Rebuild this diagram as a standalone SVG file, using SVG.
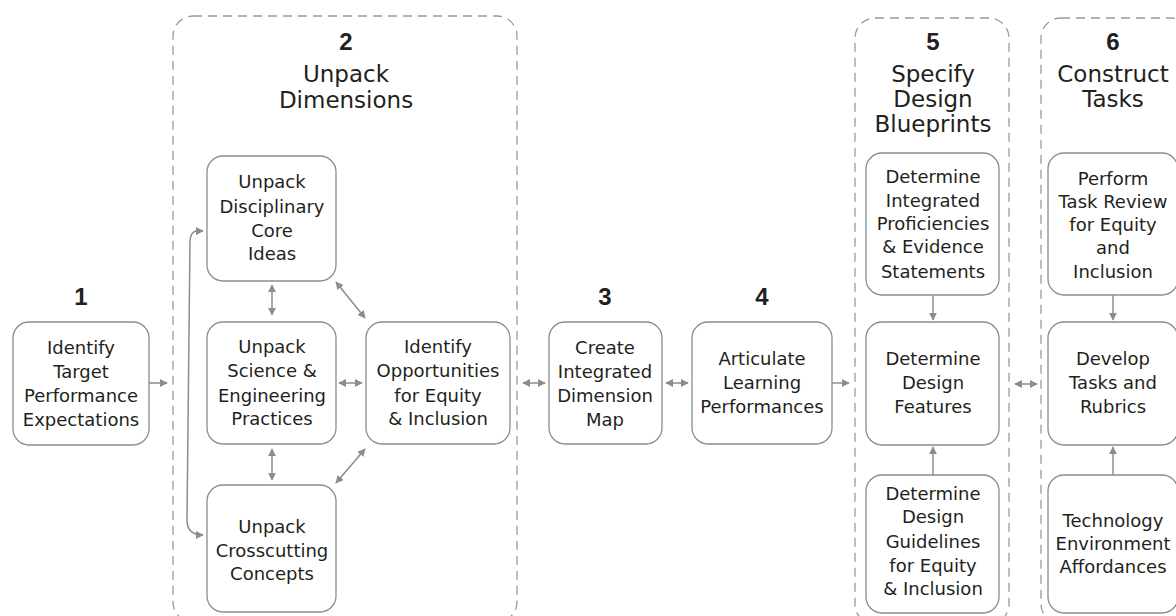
<svg xmlns="http://www.w3.org/2000/svg" width="1176" height="616" viewBox="0 0 1176 616">
  <style>
    .box { fill: #ffffff; stroke: #8c8c8c; stroke-width: 1.3; }
    .group { fill: none; stroke: #9a9a9a; stroke-width: 1.3; stroke-dasharray: 9 6; }
    .lbl { font-family: "DejaVu Sans", "Open Sans", sans-serif; font-size: 18px; fill: #231f20; text-anchor: middle; }
    .ttl { font-family: "DejaVu Sans", "Open Sans", sans-serif; font-size: 23px; fill: #231f20; text-anchor: middle; }
    .num { font-family: "Liberation Sans", "DejaVu Sans", sans-serif; font-size: 24px; font-weight: bold; fill: #231f20; text-anchor: middle; }
    .conn { fill: none; stroke: #8c8c8c; stroke-width: 1.5; }
  </style>
  <defs>
    <marker id="arr" viewBox="0 0 10 10" refX="9" refY="5" markerWidth="8" markerHeight="8" markerUnits="userSpaceOnUse" orient="auto-start-reverse">
      <path d="M0,0 L10,5 L0,10 Z" fill="#8c8c8c"/>
    </marker>
  </defs>

  <!-- dashed stage containers -->
  <g id="stage2">
    <rect class="group" x="173" y="16" width="344" height="606" rx="20"/>
    <text class="num" x="346" y="50">2</text>
    <text class="ttl" x="346" y="82">Unpack</text>
    <text class="ttl" x="346" y="108">Dimensions</text>
  </g>
  <g id="stage5">
    <rect class="group" x="855" y="18" width="154" height="606" rx="20"/>
    <text class="num" x="933" y="50">5</text>
    <text class="ttl" x="933" y="82">Specify</text>
    <text class="ttl" x="933" y="107">Design</text>
    <text class="ttl" x="933" y="132">Blueprints</text>
  </g>
  <g id="stage6">
    <rect class="group" x="1041" y="18" width="150" height="606" rx="20"/>
    <text class="num" x="1113" y="50">6</text>
    <text class="ttl" x="1113" y="82">Construct</text>
    <text class="ttl" x="1113" y="107">Tasks</text>
  </g>

  <!-- step 1 -->
  <g id="n1">
    <text class="num" x="81" y="305">1</text>
    <rect class="box" x="13" y="322" width="136" height="123" rx="16"/>
    <text class="lbl" x="81" y="354">Identify</text>
    <text class="lbl" x="81" y="378">Target</text>
    <text class="lbl" x="81" y="402">Performance</text>
    <text class="lbl" x="81" y="426">Expectations</text>
  </g>

  <!-- step 2 sub-nodes -->
  <g id="n2a">
    <rect class="box" x="207" y="156" width="129" height="125" rx="16"/>
    <text class="lbl" x="272" y="188">Unpack</text>
    <text class="lbl" x="272" y="213">Disciplinary</text>
    <text class="lbl" x="272" y="237">Core</text>
    <text class="lbl" x="272" y="260">Ideas</text>
  </g>
  <g id="n2b">
    <rect class="box" x="207" y="322" width="129" height="122" rx="16"/>
    <text class="lbl" x="272" y="353">Unpack</text>
    <text class="lbl" x="272" y="377">Science &amp;</text>
    <text class="lbl" x="272" y="402">Engineering</text>
    <text class="lbl" x="272" y="425">Practices</text>
  </g>
  <g id="n2c">
    <rect class="box" x="207" y="485" width="129" height="127" rx="16"/>
    <text class="lbl" x="272" y="533">Unpack</text>
    <text class="lbl" x="272" y="557">Crosscutting</text>
    <text class="lbl" x="272" y="580">Concepts</text>
  </g>
  <g id="n2d">
    <rect class="box" x="366" y="322" width="144" height="122" rx="16"/>
    <text class="lbl" x="438" y="353">Identify</text>
    <text class="lbl" x="438" y="377">Opportunities</text>
    <text class="lbl" x="438" y="402">for Equity</text>
    <text class="lbl" x="438" y="425">&amp; Inclusion</text>
  </g>

  <!-- step 3 -->
  <g id="n3">
    <text class="num" x="605" y="305">3</text>
    <rect class="box" x="549" y="322" width="113" height="122" rx="16"/>
    <text class="lbl" x="605" y="354">Create</text>
    <text class="lbl" x="605" y="378">Integrated</text>
    <text class="lbl" x="605" y="402">Dimension</text>
    <text class="lbl" x="605" y="426">Map</text>
  </g>

  <!-- step 4 -->
  <g id="n4">
    <text class="num" x="762" y="305">4</text>
    <rect class="box" x="692" y="322" width="140" height="122" rx="16"/>
    <text class="lbl" x="762" y="365">Articulate</text>
    <text class="lbl" x="762" y="389">Learning</text>
    <text class="lbl" x="762" y="413">Performances</text>
  </g>

  <!-- step 5 sub-nodes -->
  <g id="n5a">
    <rect class="box" x="866" y="153" width="133" height="142" rx="16"/>
    <text class="lbl" x="933" y="183">Determine</text>
    <text class="lbl" x="933" y="207">Integrated</text>
    <text class="lbl" x="933" y="230">Proficiencies</text>
    <text class="lbl" x="933" y="253">&amp; Evidence</text>
    <text class="lbl" x="933" y="278">Statements</text>
  </g>
  <g id="n5b">
    <rect class="box" x="866" y="322" width="133" height="123" rx="16"/>
    <text class="lbl" x="933" y="365">Determine</text>
    <text class="lbl" x="933" y="389">Design</text>
    <text class="lbl" x="933" y="413">Features</text>
  </g>
  <g id="n5c">
    <rect class="box" x="866" y="475" width="133" height="138" rx="16"/>
    <text class="lbl" x="933" y="500">Determine</text>
    <text class="lbl" x="933" y="523">Design</text>
    <text class="lbl" x="933" y="548">Guidelines</text>
    <text class="lbl" x="933" y="572">for Equity</text>
    <text class="lbl" x="933" y="595">&amp; Inclusion</text>
  </g>

  <!-- step 6 sub-nodes -->
  <g id="n6a">
    <rect class="box" x="1048" y="153" width="130" height="142" rx="16"/>
    <text class="lbl" x="1113" y="185">Perform</text>
    <text class="lbl" x="1113" y="208">Task Review</text>
    <text class="lbl" x="1113" y="231">for Equity</text>
    <text class="lbl" x="1113" y="254">and</text>
    <text class="lbl" x="1113" y="278">Inclusion</text>
  </g>
  <g id="n6b">
    <rect class="box" x="1048" y="322" width="130" height="123" rx="16"/>
    <text class="lbl" x="1113" y="365">Develop</text>
    <text class="lbl" x="1113" y="389">Tasks and</text>
    <text class="lbl" x="1113" y="413">Rubrics</text>
  </g>
  <g id="n6c">
    <rect class="box" x="1048" y="475" width="130" height="138" rx="16"/>
    <text class="lbl" x="1113" y="527">Technology</text>
    <text class="lbl" x="1113" y="550">Environment</text>
    <text class="lbl" x="1113" y="573">Affordances</text>
  </g>

  <!-- connectors -->
  <g id="connectors">
    <line class="conn" x1="149" y1="383" x2="167" y2="383" marker-end="url(#arr)"/>
    <path class="conn" d="M203,231 L196,231 Q191,232 190,240 L187,520 Q187,535 203,535" marker-start="url(#arr)" marker-end="url(#arr)"/>
    <line class="conn" x1="272" y1="285" x2="272" y2="315" marker-start="url(#arr)" marker-end="url(#arr)"/>
    <line class="conn" x1="272" y1="449" x2="272" y2="480" marker-start="url(#arr)" marker-end="url(#arr)"/>
    <line class="conn" x1="339" y1="383" x2="362" y2="383" marker-start="url(#arr)" marker-end="url(#arr)"/>
    <line class="conn" x1="336" y1="282" x2="365" y2="318" marker-start="url(#arr)" marker-end="url(#arr)"/>
    <line class="conn" x1="336" y1="483" x2="365" y2="449" marker-start="url(#arr)" marker-end="url(#arr)"/>
    <line class="conn" x1="523" y1="383" x2="545" y2="383" marker-start="url(#arr)" marker-end="url(#arr)"/>
    <line class="conn" x1="666" y1="383" x2="688" y2="383" marker-start="url(#arr)" marker-end="url(#arr)"/>
    <line class="conn" x1="832" y1="383" x2="849" y2="383" marker-end="url(#arr)"/>
    <line class="conn" x1="1015" y1="384" x2="1037" y2="384" marker-start="url(#arr)" marker-end="url(#arr)"/>
    <line class="conn" x1="933" y1="295" x2="933" y2="320" marker-end="url(#arr)"/>
    <line class="conn" x1="933" y1="475" x2="933" y2="447" marker-end="url(#arr)"/>
    <line class="conn" x1="1113" y1="295" x2="1113" y2="320" marker-end="url(#arr)"/>
    <line class="conn" x1="1113" y1="475" x2="1113" y2="447" marker-end="url(#arr)"/>
  </g>
</svg>
